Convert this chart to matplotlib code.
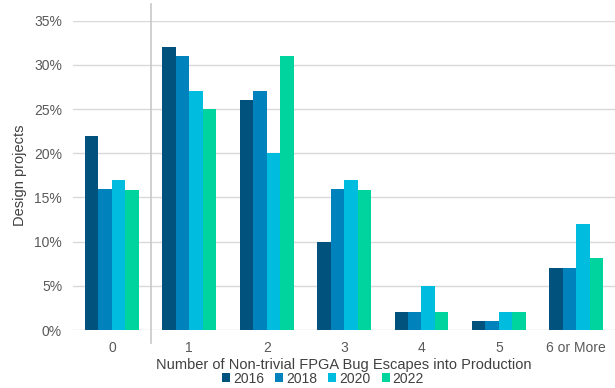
import numpy as np
import matplotlib.pyplot as plt

plt.rcParams['font.family'] = ['Liberation Sans', 'DejaVu Sans']

categories = ['0', '1', '2', '3', '4', '5', '6 or More']
years = ['2016', '2018', '2020', '2022']
v2016 = [22, 32, 26, 10, 2, 1, 7]
v2018 = [16, 31, 27, 16, 2, 1, 7]
v2020 = [17, 27, 20, 17, 5, 2, 12]
v2022 = [15.8, 25, 31, 15.8, 2, 2, 8.2]
colors = ['#01527C', '#0082BC', '#00BCDF', '#00D49E']

fig = plt.figure(figsize=(6.15, 3.88), dpi=100)
ax = fig.add_axes([0.119, 0.149, 0.881, 0.798])

x = np.arange(len(categories))
w = 0.174
series = [v2016, v2018, v2020, v2022]
for i, (vals, c, yr) in enumerate(zip(series, colors, years)):
    ax.bar(x + (i - 1.5) * w, vals, w, color=c, label=yr, zorder=3)

ax.set_xlim(-0.5, 6.5)
ax.set_ylim(0, 35)
ax.set_yticks(range(0, 36, 5))
ax.set_yticklabels([f'{t}%' for t in range(0, 36, 5)])
ax.set_xticks(x)
ax.set_xticklabels(categories)
ax.yaxis.grid(True, color='#D9D9D9', linewidth=1, zorder=0)
ax.tick_params(length=0, labelsize=10, colors='#595959', pad=8)
ax.tick_params(axis='x', pad=8)
for s in ax.spines.values():
    s.set_visible(False)

ax.axvline(0.5, ymin=-0.042, ymax=1.053, color='#C8C8C8', linewidth=1.2, clip_on=False)

ax.set_ylabel('Design projects', fontsize=10.5, color='#404040', labelpad=5)
ax.set_xlabel('Number of Non-trivial FPGA Bug Escapes into Production',
              fontsize=10.5, color='#404040', labelpad=2)

fig.legend(loc='lower center', bbox_to_anchor=(0.525, 0.006), ncol=4, frameon=False,
           fontsize=10, handlelength=0.6, handleheight=0.6, handletextpad=0.2,
           columnspacing=0.8, labelcolor='#404040', borderpad=0, borderaxespad=0)

fig.savefig('out.png', dpi=100)
